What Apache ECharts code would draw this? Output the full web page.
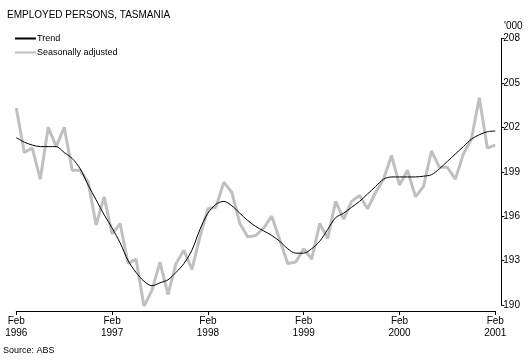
<!DOCTYPE html>
<html><head><meta charset="utf-8">
<script src="https://cdn.jsdelivr.net/npm/echarts@6/dist/echarts.min.js"></script>
<style>html,body{margin:0;padding:0;background:#fff}#c{width:529px;height:363px}</style>
</head><body><div id="c"></div>
<script>
const years = [1996,1997,1998,1999,2000,2001];
const monthNames = ['Jan','Feb','Mar','Apr','May','Jun','Jul','Aug','Sep','Oct','Nov','Dec'];
const yTicks = [190,193,196,199,202,205,208];
const seasonallyAdjusted = [
 203.3,200.3,200.6,198.5,202.0,200.7,202.0,199.1,199.1,198.3,195.4,197.3,
 194.8,195.5,192.8,193.1,189.9,191.0,192.9,190.7,192.8,193.7,192.4,194.6,
 196.5,196.6,198.3,197.6,195.5,194.6,194.7,195.2,196.0,194.4,192.8,192.9,
 193.8,193.1,195.5,194.5,197.0,195.8,197.0,197.4,196.5,197.6,198.5,200.1,
 198.1,199.1,197.3,198.0,200.4,199.3,199.3,198.5,200.2,201.2,204.0,200.6,
 200.8
];
const trend = [
 201.3,201.0,200.8,200.7,200.7,200.7,200.3,199.9,199.2,198.1,197.1,196.1,
 195.2,194.2,193.0,192.2,191.6,191.3,191.5,191.7,192.2,192.8,193.7,195.1,
 196.2,196.8,197.0,196.7,196.2,195.7,195.3,195.0,194.7,194.3,193.8,193.5,
 193.5,193.8,194.3,195.1,195.9,196.2,196.6,197.0,197.5,198.0,198.5,198.65,
 198.65,198.65,198.65,198.7,198.8,199.2,199.7,200.2,200.7,201.2,201.5,201.7,
 201.75
];
// monthly categories Feb 1996 .. Feb 2001
const categories = [];
for (let i = 0; i < trend.length; i++) {
  const m = (1 + i) % 12;
  const y = years[0] + Math.floor((1 + i) / 12);
  categories.push(monthNames[m] + '\n' + y);
}
const font = 'Liberation Sans, Arial, sans-serif';
const chart = echarts.init(document.getElementById('c'), null, {renderer:'canvas'});
chart.setOption({
  animation: false,
  backgroundColor: '#fff',
  textStyle: {fontFamily: font},
  title: {
    text: 'EMPLOYED PERSONS, TASMANIA',
    left: 2, top: 5,
    textStyle: {fontSize: 10, fontWeight: 'normal', color: '#000', fontFamily: font}
  },
  legend: {
    orient: 'vertical', left: 10, top: 29,
    itemWidth: 21, itemHeight: 2, itemGap: 5,
    textStyle: {fontSize: 9, color: '#000', fontFamily: font, padding: [0,0,0,-4]},
    data: [
      {name: 'Trend', icon: 'rect', itemStyle: {color: '#000'}},
      {name: 'Seasonally adjusted', icon: 'rect', itemStyle: {color: '#c0c0c0'}}
    ]
  },
  graphic: [
    {type: 'text', left: 3, top: 346, style: {text: 'Source: ABS', fontSize: 9, fill: '#000', fontFamily: font}},
    {type: 'text', left: 504, top: 21, style: {text: "'000", fontSize: 10, fill: '#000', fontFamily: font}}
  ],
  grid: {left: 16.3, right: 529 - 495.3, top: 38.5, bottom: 363 - 305, containLabel: false},
  xAxis: {
    type: 'category', data: categories, boundaryGap: false, offset: 6,
    axisLine: {lineStyle: {color: '#000', width: 1}},
    axisTick: {show: true, length: 4, interval: (i) => i % 12 === 0, lineStyle: {color: '#000'}},
    axisLabel: {interval: (i) => i % 12 === 0, fontSize: 10, color: '#000', lineHeight: 12, margin: 4, fontFamily: font},
    splitLine: {show: false}
  },
  yAxis: {
    type: 'value', position: 'right', min: 190, max: 208, offset: 6,
    axisLine: {show: true, lineStyle: {color: '#000', width: 1}},
    axisTick: {show: true, length: 3, lineStyle: {color: '#000'}, customValues: yTicks},
    axisLabel: {fontSize: 10, color: '#000', margin: 2, fontFamily: font, customValues: yTicks},
    splitLine: {show: false}
  },
  series: [
    {name: 'Seasonally adjusted', type: 'line', data: seasonallyAdjusted, symbol: 'none',
     lineStyle: {color: '#c0c0c0', width: 3}, itemStyle: {color: '#c0c0c0'}, z: 1},
    {name: 'Trend', type: 'line', data: trend, symbol: 'none', smooth: 0.3,
     lineStyle: {color: '#000', width: 1}, itemStyle: {color: '#000'}, z: 2}
  ]
});
</script></body></html>
